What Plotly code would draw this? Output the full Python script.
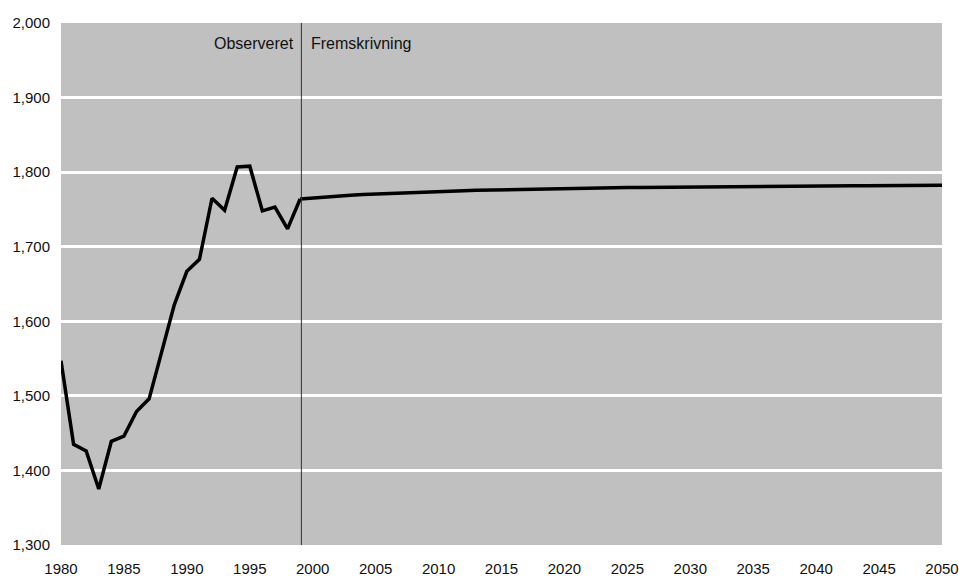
import plotly.graph_objects as go

years_obs = list(range(1980, 2000))
values_obs = [1547, 1435, 1426, 1375, 1439, 1446, 1479, 1496, 1559, 1622,
              1667, 1683, 1765, 1749, 1807, 1808, 1748, 1753, 1724, 1764]

years_proj = list(range(1999, 2051))
values_proj = [1764, 1765.5, 1766.8, 1768, 1769, 1770, 1770.8, 1771.6, 1772.3, 1773,
               1773.6, 1774.2, 1774.7, 1775.2, 1775.7, 1776.1, 1776.5, 1776.9, 1777.2, 1777.5,
               1777.8, 1778.1, 1778.4, 1778.6, 1778.9, 1779.1, 1779.3, 1779.5, 1779.7, 1779.9,
               1780.1, 1780.3, 1780.4, 1780.6, 1780.7, 1780.8, 1781, 1781.1, 1781.2, 1781.3,
               1781.4, 1781.5, 1781.6, 1781.7, 1781.8, 1781.9, 1782, 1782, 1782.1, 1782.2,
               1782.3, 1782.3]

divider_year = 1999.1
label_obs = "Observeret"
label_proj = "Fremskrivning"

x_ticks = list(range(1980, 2051, 5))
y_ticks = list(range(1300, 2001, 100))

fig = go.Figure()
fig.add_trace(go.Scatter(x=years_obs, y=values_obs, mode="lines",
                         line=dict(color="black", width=3.5), showlegend=False,
                         cliponaxis=False))
fig.add_trace(go.Scatter(x=years_proj, y=values_proj, mode="lines",
                         line=dict(color="black", width=3.5), showlegend=False,
                         cliponaxis=False))

fig.add_shape(type="line", x0=divider_year, x1=divider_year, y0=0, y1=1,
              xref="x", yref="paper", line=dict(color="#333333", width=1))

fig.add_annotation(x=divider_year, y=1972, xref="x", yref="y", text=label_obs,
                   showarrow=False, xanchor="right", xshift=-5,
                   font=dict(size=16, color="#111111"))
fig.add_annotation(x=divider_year, y=1972, xref="x", yref="y", text=label_proj,
                   showarrow=False, xanchor="left", xshift=8,
                   font=dict(size=16, color="#111111"))

fig.update_layout(
    width=959, height=576,
    margin=dict(l=61, r=17, t=23, b=31, autoexpand=False),
    paper_bgcolor="white",
    plot_bgcolor="#C0C0C0",
    font=dict(family="Liberation Sans, Arial, sans-serif", size=15, color="#111111"),
    xaxis=dict(range=[1980, 2050], tickvals=x_ticks, showgrid=False, zeroline=False,
               ticks="", showline=False, ticklabelstandoff=13, automargin=False,
               ticklabeloverflow="allow"),
    yaxis=dict(range=[1300, 2000], tickvals=y_ticks, tickformat=",d",
               showgrid=True, gridcolor="white", gridwidth=3, zeroline=False,
               ticks="", showline=False, ticklabelstandoff=10, automargin=False),
)

fig.write_html(
    "out.html",
    config={"displayModeBar": False},
    post_script="document.body.style.margin='0';document.body.style.overflow='hidden';",
)
